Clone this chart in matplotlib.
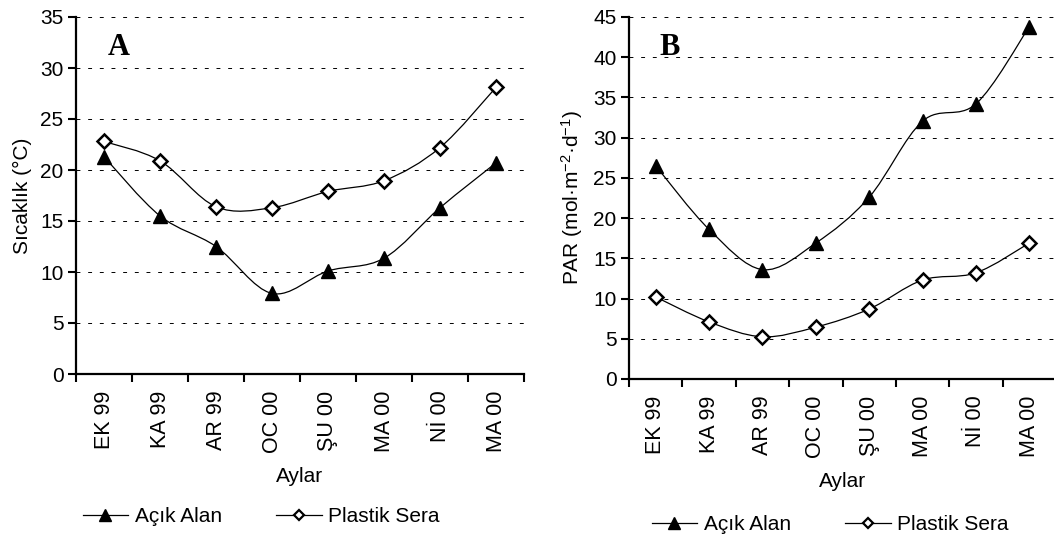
import numpy as np
import matplotlib
matplotlib.use('Agg')
import matplotlib.pyplot as plt
from matplotlib.path import Path
from matplotlib.patches import PathPatch
from matplotlib.lines import Line2D

plt.rcParams['font.family'] = ['Liberation Sans', 'DejaVu Sans']
plt.rcParams['mathtext.fontset'] = 'custom'
plt.rcParams['mathtext.rm'] = 'Liberation Sans'
plt.rcParams['mathtext.it'] = 'Liberation Sans:italic'

# data
months = ['EK 99', 'KA 99', 'AR 99', 'OC 00', 'ŞU 00', 'MA 00', 'Nİ 00', 'MA 00']

temp_acik = [21.3, 15.5, 12.5, 7.9, 10.1, 11.35, 16.3, 20.7]
temp_sera = [22.8, 20.9, 16.4, 16.3, 17.9, 18.95, 22.2, 28.1]

par_acik = [26.5, 18.6, 13.6, 16.9, 22.6, 32.05, 34.2, 43.8]
par_sera = [10.2, 7.1, 5.25, 6.45, 8.7, 12.3, 13.2, 16.9]

FS = 15


def smooth_path(xs, ys, t=1/6):
    # excel-like smoothed line (bezier through the points)
    pts = np.column_stack([xs, ys]).astype(float)
    n = len(pts)
    verts = [pts[0]]
    codes = [Path.MOVETO]
    for i in range(n - 1):
        p0 = pts[i - 1] if i > 0 else pts[i]
        p1 = pts[i]
        p2 = pts[i + 1]
        p3 = pts[i + 2] if i + 2 < n else pts[i + 1]
        c1 = p1 + (p2 - p0) * t
        c2 = p2 - (p3 - p1) * t
        verts += [c1, c2, p2]
        codes += [Path.CURVE4] * 3
    return Path(verts, codes)


def draw_series(ax, ys, marker):
    xs = np.arange(len(ys))
    ax.add_patch(PathPatch(smooth_path(xs, ys), fill=False, lw=0.9, color='black', zorder=2))
    if marker == '^':
        ax.plot(xs, ys, ls='none', marker='^', ms=10, mfc='black', mec='black', zorder=3)
    else:
        ax.plot(xs, ys, ls='none', marker='D', ms=7, mfc='white', mec='black', mew=1.8, zorder=3)


def setup_axes(ax, ymax, ylabel, letter):
    ax.set_xlim(-0.5, len(months) - 0.5)
    ax.set_ylim(0, ymax)
    ax.set_yticks(np.arange(0, ymax + 1, 5))
    ax.set_xticks(np.arange(len(months)))
    ax.set_xticklabels(months, rotation=90, fontsize=FS + 0.5)
    ax.set_xticks(np.arange(-0.5, len(months)), minor=True)
    ax.tick_params(axis='x', which='major', length=0, pad=12)
    ax.tick_params(axis='x', which='minor', length=6, width=1.5, direction='out')
    ax.tick_params(axis='y', length=6, width=1.5, labelsize=FS, pad=3)
    for s in ['top', 'right']:
        ax.spines[s].set_visible(False)
    for s in ['left', 'bottom']:
        ax.spines[s].set_linewidth(1.6)
    for v in np.arange(5, ymax + 1, 5):
        ax.axhline(v, color='black', lw=0.7, ls=(0, (4, 8)), zorder=1)
    ax.set_ylabel(ylabel, fontsize=FS, labelpad=6)
    ax.set_xlabel('Aylar', fontsize=FS, labelpad=10)
    ax.text(0.095, 0.915, letter, transform=ax.transAxes, fontsize=22, fontweight='bold',
            family='Liberation Serif', ha='center', va='center')


fig = plt.figure(figsize=(10.54, 5.38), dpi=100)
ax1 = fig.add_axes([76 / 1054, 1 - 374 / 538, 448 / 1054, 357 / 538])
ax2 = fig.add_axes([629 / 1054, 1 - 379 / 538, 427 / 1054, 362 / 538])

draw_series(ax1, temp_acik, '^')
draw_series(ax1, temp_sera, 'D')
setup_axes(ax1, 35, 'Sıcaklık (°C)', 'A')

draw_series(ax2, par_acik, '^')
draw_series(ax2, par_sera, 'D')
setup_axes(ax2, 45, 'PAR (mol·m$^{-2}$·d$^{-1}$)', 'B')

handles = [
    Line2D([], [], color='black', lw=0.9, marker='^', ms=9, mfc='black'),
    Line2D([], [], color='black', lw=0.9, marker='D', ms=5.5, mfc='white', mew=1.6),
]
names = ['Açık Alan', 'Plastik Sera']
for x, y in [(261 / 1054, 1 - 517 / 538), (830 / 1054, 1 - 525 / 538)]:
    fig.legend(handles, names, loc='center', bbox_to_anchor=(x, y), ncol=2, frameon=False,
               fontsize=FS, handlelength=2.2, columnspacing=2.6, handletextpad=0.3)

fig.savefig('out.png', dpi=100)
